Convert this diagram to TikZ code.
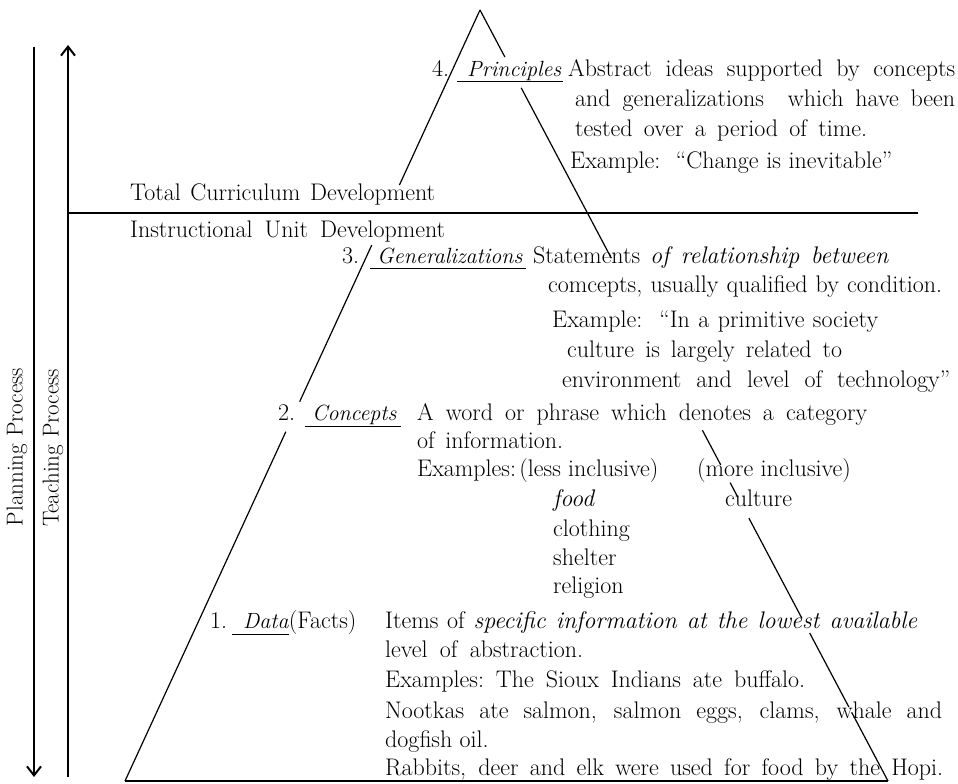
\documentclass[tikz,border=0pt]{standalone}
\usepackage{fontspec}
\usetikzlibrary{arrows.meta,calc}
\begin{document}
\begin{tikzpicture}[x=1pt,y=-1pt,
  txt/.style={anchor=base west, inner sep=0pt, font=\fontsize{24}{28}\selectfont},
  itxt/.style={anchor=base west, inner sep=0pt, font=\fontsize{22}{26}\selectfont\itshape},
  ptxt/.style={inner sep=0pt, rotate=90, font=\fontsize{23}{27}\selectfont},
  side/.style={line width=1.2pt},
  uline/.style={line width=1pt},
  proc/.style={line width=2pt},
  divider/.style={line width=1.6pt}]
\useasboundingbox (0,0) rectangle (958,784);

% ---- process arrows and labels
\coordinate (plTop) at (34,47);
\coordinate (plBot) at (34,777);
\coordinate (teTop) at (68,45);
\coordinate (teBot) at (68,777);
\draw[proc,-{Straight Barb[length=9pt,width=14pt]}] (plTop) -- (plBot);
\draw[proc,-{Straight Barb[length=9pt,width=14pt]}] (teBot) -- (teTop);
\node[ptxt] (planning) at (17,447) {Planning Process};
\node[ptxt] (teaching) at (53,448) {Teaching Process};

% ---- divider
\coordinate (dL) at (68,213);
\coordinate (dR) at (918,213);
\draw[divider] (dL) -- (dR);
\node[txt] (total) at (130,200) {\makebox[305pt][s]{Total Curriculum Development}};
\node[txt] (instr) at (130,237) {\makebox[315pt][s]{Instructional Unit Development}};

% ---- triangle
\coordinate (A) at (480,10);
\coordinate (B) at (888,781);
\coordinate (C) at (125,781);
% left side
\draw[side] (A) -- ($(A)!0.227!(C)$);
\draw[side] ($(A)!0.305!(C)$) -- ($(A)!0.508!(C)$);
\draw[side] ($(A)!0.547!(C)$) -- (C);
% right side
\draw[side] (A) -- ($(A)!0.061!(B)$);
\draw[side] ($(A)!0.101!(B)$) -- ($(A)!0.322!(B)$);
\draw[side] ($(A)!0.545!(B)$) -- ($(A)!0.590!(B)$);
\draw[side] ($(A)!0.613!(B)$) -- ($(A)!0.632!(B)$);
\draw[side] ($(A)!0.659!(B)$) -- ($(A)!0.789!(B)$);
\draw[side] ($(A)!0.808!(B)$) -- ($(A)!0.904!(B)$);
\draw[side] ($(A)!0.911!(B)$) -- (B);
% base
\draw[side] (C) -- (B);

% ---- 4. Principles
\node[txt] (n4) at (432,77) {4.};
\node[itxt] (prin) at (467,77) {Principles};
\draw[uline] ($(prin.base west)+(-10,4)$) -- ($(prin.base east)+(2,4)$);
\node[txt] (p1) at (568,77) {\makebox[387pt][s]{Abstract ideas supported by concepts}};
\node[txt] (p2) at (575,106) {\makebox[380pt][s]{and generalizations\quad which have been}};
\node[txt] (p3) at (575,136) {\makebox[292pt][s]{tested over a period of time.}};
\node[txt] (p4) at (570,168) {\makebox[322pt][s]{Example:\ \ ``Change is inevitable''}};

% ---- 3. Generalizations
\node[txt] (n3) at (342,263) {3.};
\node[itxt] (gen) at (377,263) {Generalizations};
\draw[uline] ($(gen.base west)+(-7,5)$) -- ($(gen.base east)+(4,5)$);
\node[txt] (g1) at (533,263) {\makebox[355pt][s]{Statements \itshape of relationship between}};
\node[txt] (g2) at (548,292) {\makebox[394pt][s]{comcepts, usually qualified by condition.}};
\node[txt] (g3) at (552,327) {\makebox[326pt][s]{Example:\ \ ``In a primitive society}};
\node[txt] (g4) at (567,357) {\makebox[275pt][s]{culture is largely related to}};
\node[txt] (g5) at (562,387) {\makebox[388pt][s]{environment and level of technology''}};

% ---- 2. Concepts
\node[txt] (n2) at (278,420) {2.};
\node[itxt] (con) at (312,420) {Concepts};
\draw[uline] ($(con.base west)+(-7,6)$) -- ($(con.base east)+(4,6)$);
\node[txt] (c1) at (417,420) {\makebox[450pt][s]{A word or phrase which denotes a category}};
\node[txt] (c2) at (417,448) {\makebox[146pt][s]{of information.}};
\node[txt] (c3) at (417,476) {Examples:};
\node[txt] (less) at ($(c3.base east)+(3,0)$) {(less inclusive)};
\node[txt] (more) at (697,476) {(more inclusive)};
\node[itxt,font=\fontsize{24}{28}\selectfont\itshape] (food) at (553,506) {food};
\node[txt] (culture) at (725,506) {culture};
\node[txt] (cloth) at (553,536) {clothing};
\node[txt] (shelter) at (553,565) {shelter};
\node[txt] (relig) at (553,593) {religion};

% ---- 1. Data
\node[txt] (n1) at (210,628) {1.};
\node[itxt] (data) at (243,628) {Data};
\node[txt] (facts) at (data.base east) {(Facts)};
\draw[uline] ($(data.base west)+(-11,6)$) -- ($(data.base east)+(0,6)$);
\node[txt] (d1) at (385,628) {\makebox[532pt][s]{Items of \itshape specific information at the lowest available}};
\node[txt] (d2) at (385,657) {\makebox[198pt][s]{level of abstraction.}};
\node[txt] (d3) at (385,687) {\makebox[420pt][s]{Examples:\ The Sioux Indians ate buffalo.}};
\node[txt] (d4) at (385,718) {\makebox[557pt][s]{Nootkas ate salmon, salmon eggs, clams, whale and}};
\node[txt] (d5) at (385,747) {dogfish oil.};
\node[txt] (d6) at (385,775) {\makebox[558pt][s]{Rabbits, deer and elk were used for food by the Hopi.}};
\end{tikzpicture}
\end{document}
